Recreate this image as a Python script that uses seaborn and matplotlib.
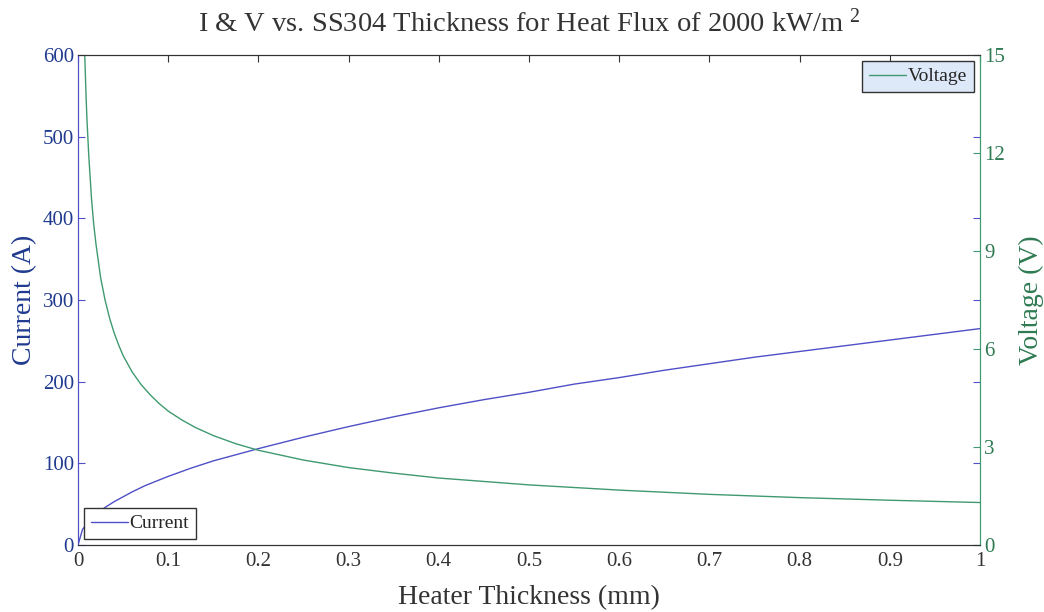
import numpy as np
import pandas as pd
import seaborn as sns
import matplotlib.pyplot as plt

# values
thick_i = [0, 0.005, 0.01, 0.02, 0.03, 0.04, 0.05, 0.06, 0.075, 0.1, 0.125, 0.15, 0.2, 0.25,
           0.3, 0.35, 0.4, 0.45, 0.5, 0.55, 0.6, 0.65, 0.7, 0.75, 0.8, 0.85, 0.9, 0.95, 1.0]
current = [0, 19, 26, 37, 46, 53, 59, 65, 73, 84, 94, 103, 118, 132,
           145, 157, 168, 178, 187, 197, 205, 214, 222, 230, 237, 244, 251, 258, 265]

thick_v = [0.005, 0.006, 0.0075, 0.009, 0.01, 0.012, 0.015, 0.0175, 0.02, 0.025, 0.03, 0.035,
           0.04, 0.045, 0.05, 0.06, 0.07, 0.08, 0.09, 0.1, 0.115, 0.13, 0.15, 0.175, 0.2,
           0.25, 0.3, 0.35, 0.4, 0.5, 0.6, 0.7, 0.8, 0.9, 1.0]
voltage = [18.4, 16.8, 15.0, 13.7, 13.0, 11.9, 10.6, 9.8, 9.2, 8.2, 7.5, 6.95,
           6.5, 6.13, 5.8, 5.3, 4.91, 4.6, 4.33, 4.1, 3.83, 3.6, 3.35, 3.1, 2.9,
           2.6, 2.37, 2.2, 2.05, 1.84, 1.68, 1.55, 1.45, 1.37, 1.3]

x_ticks = [0, 0.1, 0.2, 0.3, 0.4, 0.5, 0.6, 0.7, 0.8, 0.9, 1]
x_labels = ['0', '0.1', '0.2', '0.3', '0.4', '0.5', '0.6', '0.7', '0.8', '0.9', '1']
i_ticks = [0, 100, 200, 300, 400, 500, 600]
v_ticks = [0, 3, 6, 9, 12, 15]

sns.set_style('white')
plt.rcParams['font.family'] = ['Liberation Serif', 'DejaVu Serif']
plt.rcParams['mathtext.fontset'] = 'custom'
plt.rcParams['mathtext.rm'] = 'Liberation Serif'
plt.rcParams['mathtext.it'] = 'Liberation Serif'

blue_line = '#4f4fc8'
blue_txt = '#1f3a8f'
green_line = '#3f9a70'
green_txt = '#2e7a52'
dark = '#333333'

df_i = pd.DataFrame({'t': thick_i, 'I': current})
df_v = pd.DataFrame({'t': thick_v, 'V': voltage})

fig = plt.figure(figsize=(10.44, 6.12), dpi=100)
ax1 = fig.add_axes([0.0747, 0.1095, 0.864, 0.8005])
ax2 = ax1.twinx()

sns.lineplot(data=df_i, x='t', y='I', ax=ax1, color=blue_line, lw=1.0, label='Current')
sns.lineplot(data=df_v, x='t', y='V', ax=ax2, color=green_line, lw=1.0, label='Voltage')

ax1.set_xlim(0, 1)
ax1.set_ylim(0, 600)
ax2.set_ylim(0, 15)
ax1.set_xticks(x_ticks)
ax1.set_xticklabels(x_labels)
ax1.set_yticks(i_ticks)
ax2.set_yticks(v_ticks)

ax1.tick_params(axis='x', direction='in', top=True, length=5, colors=dark, labelsize=15, pad=5)
ax1.tick_params(axis='y', direction='in', right=True, length=5, color=blue_line,
                labelcolor=blue_txt, labelsize=15, pad=3)
ax2.tick_params(axis='y', direction='in', length=5, color=green_line,
                labelcolor=green_txt, labelsize=15, pad=3)

for sp in ['top', 'bottom']:
    ax1.spines[sp].set_color(dark)
    ax2.spines[sp].set_color(dark)
ax1.spines['left'].set_color(blue_line)
ax2.spines['left'].set_color(blue_line)
ax2.spines['right'].set_color(green_line)
ax1.spines['right'].set_color(green_line)

ax1.set_xlabel('Heater Thickness (mm)', fontsize=20, color=dark, labelpad=10)
ax1.set_ylabel('Current (A)', fontsize=20, color=blue_txt, labelpad=4)
ax2.set_ylabel('Voltage (V)', fontsize=20, color=green_txt, labelpad=10)
ax1.set_title('I & V vs. SS304 Thickness for Heat Flux of 2000 kW/m $^{2}$',
              fontsize=20.5, color=dark, pad=17)

leg1 = ax1.legend(loc='lower left', fontsize=14, frameon=True, fancybox=False,
                  edgecolor=dark, framealpha=1, borderaxespad=0.3, handlelength=1.9,
                  borderpad=0.35, handletextpad=0.1)
leg2 = ax2.legend(loc='upper right', fontsize=14, frameon=True, fancybox=False,
                  edgecolor=dark, framealpha=1, borderaxespad=0.3, handlelength=1.9,
                  borderpad=0.35, handletextpad=0.1)
leg2.get_frame().set_facecolor('#dde8f8')

plt.savefig('out.png', dpi=100)
